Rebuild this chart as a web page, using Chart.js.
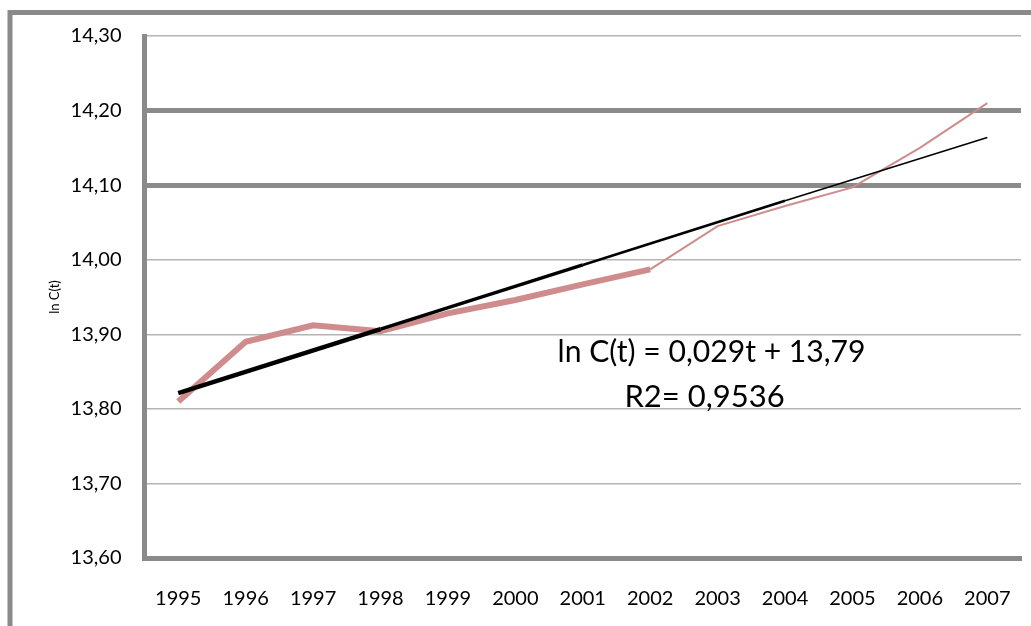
<!DOCTYPE html>
<html lang="en">

<head>
    <meta charset="UTF-8">
    <title>ln C(t)</title>
    <script src="https://cdn.jsdelivr.net/npm/chart.js@4.4.1/dist/chart.umd.min.js"></script>
    <style>
        html, body { margin: 0; padding: 0; background: #fff; }
        #box { width: 1031px; height: 626px; }
    </style>
</head>

<body>
    <div id="box"><canvas id="myChart"></canvas></div>
    <script>
        // data
        var years = ["1995", "1996", "1997", "1998", "1999", "2000", "2001", "2002", "2003", "2004", "2005", "2006", "2007"];
        var lnC = [13.81, 13.89, 13.912, 13.904, 13.928, 13.946, 13.967, 13.987, 14.045, 14.072, 14.097, 14.15, 14.21];
        var trendYears = ["1995", "1998", "2001", "2004", "2007"];
        var trendValues = [13.821, 13.907, 13.993, 14.079, 14.164];
        var trendWidths = [4.5, 3.5, 2.5, 1.5];
        var yTicks = [13.6, 13.7, 13.8, 13.9, 14.0, 14.1, 14.2, 14.3];
        var equation = "ln C(t) = 0,029t + 13,79";
        var rSquared = "R2= 0,9536";

        var gray = "#8a8a8a";

        // outer frame and the equation text
        var frame = {
            id: "frame",
            beforeDraw: function (chart) {
                var c = chart.ctx;
                c.save();
                c.fillStyle = "#fff";
                c.fillRect(0, 0, chart.width, chart.height);
                c.strokeStyle = gray;
                c.lineWidth = 5;
                c.beginPath();
                c.moveTo(10, chart.height);
                c.lineTo(10, 12.5);
                c.lineTo(chart.width, 12.5);
                c.stroke();
                c.restore();
            },
            afterDraw: function (chart) {
                var c = chart.ctx;
                var a = chart.chartArea;
                c.save();
                c.fillStyle = "#000";
                c.textAlign = "center";
                c.textBaseline = "middle";
                c.font = "31px Lato";
                c.fillText(equation, a.left + 567, a.top + 316, 308);
                c.fillText(rSquared, a.left + 560, a.top + 361, 180);
                c.restore();
            }
        };

        var ctx = document.getElementById("myChart").getContext("2d");
        var chart = new Chart(ctx, {
            type: "line",
            data: {
                labels: years,
                datasets: [{
                    label: "trend",
                    data: trendYears.map(function (y, i) { return { x: y, y: trendValues[i] }; }),
                    borderColor: "#000",
                    borderCapStyle: "butt",
                    pointRadius: 0,
                    segment: {
                        borderWidth: function (s) { return trendWidths[s.p0DataIndex]; }
                    }
                }, {
                    label: "ln C(t)",
                    data: lnC,
                    borderColor: "rgb(206,140,140)",
                    pointRadius: 0,
                    segment: {
                        borderWidth: function (s) { return s.p0DataIndex < 7 ? 6 : 2; }
                    }
                }]
            },
            options: {
                responsive: true,
                maintainAspectRatio: false,
                animation: false,
                layout: { padding: { left: 45, top: 36, right: 10, bottom: 5 } },
                plugins: {
                    legend: { display: false },
                    tooltip: { enabled: false }
                },
                scales: {
                    x: {
                        offset: true,
                        grid: { display: false, drawTicks: true, tickLength: 19 },
                        border: { display: true, color: gray, width: 5 },
                        ticks: {
                            color: "#000",
                            padding: 10,
                            maxRotation: 0,
                            font: { family: "Lato", size: 20 }
                        }
                    },
                    y: {
                        min: 13.6,
                        max: 14.3,
                        afterBuildTicks: function (scale) {
                            scale.ticks = yTicks.map(function (v) { return { value: v }; });
                        },
                        grid: {
                            drawTicks: false,
                            color: function (g) {
                                var v = Math.round(g.tick.value * 10);
                                return (v === 141 || v === 142) ? gray : "#b4b4b4";
                            },
                            lineWidth: function (g) {
                                var v = Math.round(g.tick.value * 10);
                                return (v === 141 || v === 142) ? 5 : 1.5;
                            }
                        },
                        border: { display: true, color: gray, width: 5 },
                        ticks: {
                            color: "#000",
                            padding: 23,
                            font: { family: "Lato", size: 20 },
                            callback: function (v) { return v.toFixed(2).replace(".", ","); }
                        },
                        title: {
                            display: true,
                            text: "ln C(t)",
                            color: "#000",
                            padding: { top: 2, bottom: -15 },
                            font: { family: "Lato", size: 13 }
                        }
                    }
                }
            },
            plugins: [frame]
        });
    </script>
</body>

</html>
